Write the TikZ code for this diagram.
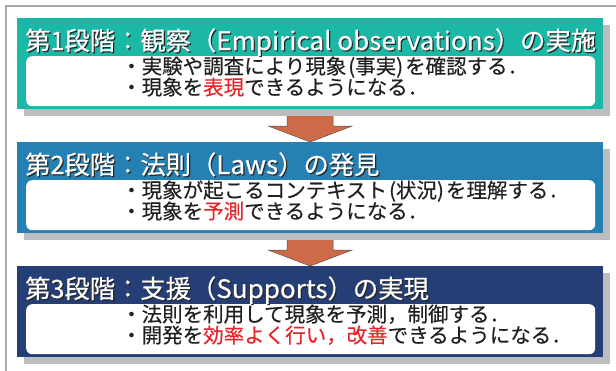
\documentclass[tikz,border=0pt]{standalone}
\usepackage{fontspec}
\newfontfamily\jp[FakeBold=0.5]{Noto Sans CJK JP}
\newfontfamily\jpbody[FakeBold=0.3]{Noto Sans CJK JP}
\newfontfamily\jplatin[FakeStretch=1.03,FakeBold=0.5]{Noto Sans CJK JP}
\usetikzlibrary{shadows,calc}
\pgfdeclarelayer{bg}
\pgfsetlayers{bg,main}
\definecolor{tealbox}{RGB}{27,184,166}
\definecolor{bluebox}{RGB}{37,129,179}
\definecolor{navybox}{RGB}{37,62,118}
\definecolor{shadowgray}{RGB}{188,189,192}
\definecolor{arrowfill}{RGB}{206,106,72}
\definecolor{arrowedge}{RGB}{90,80,75}
\definecolor{emred}{RGB}{230,36,42}
\definecolor{bodyblack}{RGB}{35,31,32}
\definecolor{framegray}{RGB}{170,170,170}
\definecolor{titleshade}{RGB}{40,40,40}
\newcommand{\emr}[1]{\textcolor{emred}{#1}}
\newcommand{\lat}[1]{{\jplatin #1}}
\newcommand{\po}{\hspace{2pt}(}
\newcommand{\pc}{)\hspace{2pt}}
\begin{document}
\begin{tikzpicture}[x=1pt,y=-1pt,
  stagebox/.style={rectangle, minimum width=586pt, minimum height=91pt, inner sep=0pt, anchor=north west,
    drop shadow={shadow xshift=7pt,shadow yshift=-7pt,fill=shadowgray,opacity=1}},
  innerbox/.style={rectangle, rounded corners=6pt, fill=white, minimum width=569pt, minimum height=50pt, inner sep=0pt, anchor=north west},
  titletext/.style={anchor=base west, inner sep=0pt, font=\jp\fontsize{25.3}{26}\selectfont, text=white},
  titleshadow/.style={titletext, text=titleshade},
  bodytext/.style={anchor=base west, inner sep=0pt, font=\jpbody\fontsize{20.5}{22}\selectfont, text=bodyblack},
  arrowshape/.style={fill=arrowfill, draw=arrowedge, line width=0.5pt},
  frameline/.style={draw=framegray, line width=1.3pt}
]
\useasboundingbox (0,0) rectangle (616,370);
\begin{pgfonlayer}{bg}
\fill[white] (0,0) rectangle (616,370);
\end{pgfonlayer}
\coordinate (fbl) at (6,372);
\coordinate (ftl) at (6,6);
\coordinate (ftr) at (618,6);
\draw[frameline] (fbl) -- (ftl) -- (ftr);

% stage boxes
\node[stagebox, fill=tealbox] (s1) at (17,18) {};
\node[stagebox, fill=bluebox] (s2) at (17,142) {};
\node[stagebox, fill=navybox] (s3) at (17,266) {};

% inner white boxes
\node[innerbox] (w1) at (26,56) {};
\node[innerbox] (w2) at (26,180) {};
\node[innerbox] (w3) at (26,304) {};

% titles
\node[titleshadow] (t1s) at (26.2,51.2) {第1段階：観察（\lat{Empirical observations}）の実施};
\node[titletext] (t1) at (25,50) {第1段階：観察（\lat{Empirical observations}）の実施};
\node[titleshadow] (t2s) at (26.2,175.2) {第2段階：法則（\lat{Laws}）の発見};
\node[titletext] (t2) at (25,174) {第2段階：法則（\lat{Laws}）の発見};
\node[titleshadow] (t3s) at (26.2,299.2) {第3段階：支援（\lat{Supports}）の実現};
\node[titletext] (t3) at (25,298) {第3段階：支援（\lat{Supports}）の実現};

% body lines
\node[bodytext] (b11) at (121,73.8) {・実験や調査により現象\po 事実\pc を確認する．};
\node[bodytext] (b12) at (121,94.8) {・現象を\emr{表現}できるようになる．};
\node[bodytext] (b21) at (121,197.8) {・現象が起こるコンテキスト\po 状況\pc を理解する．};
\node[bodytext] (b22) at (121,218.8) {・現象を\emr{予測}できるようになる．};
\node[bodytext] (b31) at (121,321.8) {・法則を利用して現象を予測，制御する．};
\node[bodytext] (b32) at (121,342.8) {・開発を\emr{効率よく行い，改善}できるようになる．};

% arrows
\begin{pgfonlayer}{bg}
\path[arrowshape] ($(s1.south)+(-23,0)$) -- ($(s2.north)+(-23,-16)$) -- ($(s2.north)+(-42,-16)$)
  -- (s2.north) -- ($(s2.north)+(42,-16)$) -- ($(s2.north)+(23,-16)$) -- ($(s1.south)+(23,0)$) -- cycle;
\path[arrowshape] ($(s2.south)+(-23,0)$) -- ($(s3.north)+(-23,-16)$) -- ($(s3.north)+(-42,-16)$)
  -- (s3.north) -- ($(s3.north)+(42,-16)$) -- ($(s3.north)+(23,-16)$) -- ($(s2.south)+(23,0)$) -- cycle;
\end{pgfonlayer}
\end{tikzpicture}
\end{document}
